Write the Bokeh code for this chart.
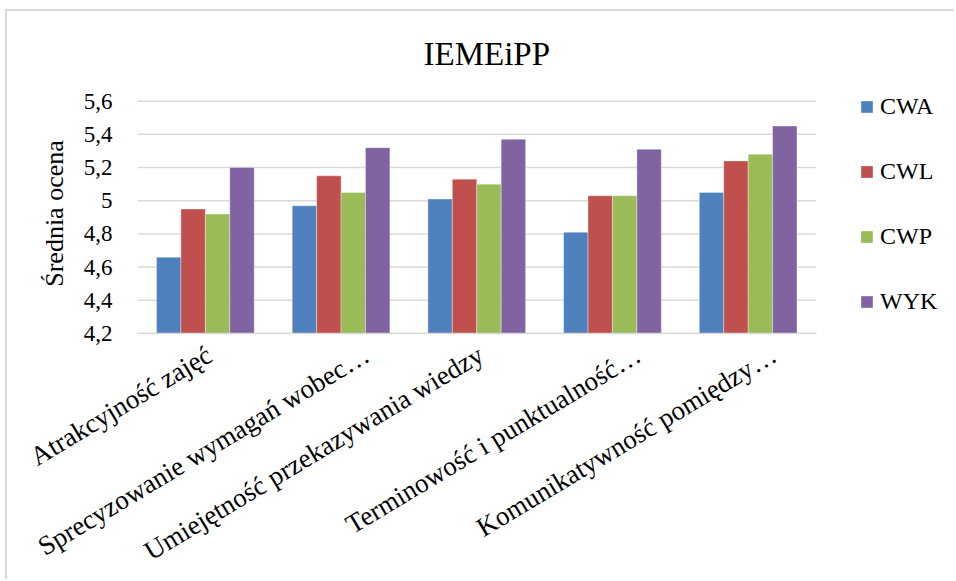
from bokeh.plotting import figure
from bokeh.models import (ColumnDataSource, Range1d, FixedTicker,
                          CustomJSTickFormatter, Legend, LegendItem, Title)
from bokeh.transform import dodge
from bokeh.embed import file_html
from bokeh.resources import INLINE
import math

# Average ratings per evaluation criterion and class type
categories = [
    "Atrakcyjność zajęć",
    "Sprecyzowanie wymagań wobec…",
    "Umiejętność przekazywania wiedzy",
    "Terminowość i punktualność…",
    "Komunikatywność pomiędzy…",
]
cwa = [4.66, 4.97, 5.01, 4.81, 5.05]
cwl = [4.95, 5.15, 5.13, 5.03, 5.24]
cwp = [4.92, 5.05, 5.10, 5.03, 5.28]
wyk = [5.20, 5.32, 5.37, 5.31, 5.45]
series_names = ["CWA", "CWL", "CWP", "WYK"]
y_ticks = [4.2, 4.4, 4.6, 4.8, 5.0, 5.2, 5.4, 5.6]

colors = ["#4F81BD", "#C0504D", "#9BBB59", "#8064A2"]
FONT = "Liberation Serif"

# Layout: the frame extends right of the bars so the legend can sit inside it;
# bars occupy the first n category slots.
W, H = 949, 570
LEFT, TOP, BOTTOM = 130, 82, 247
PX_PER_CAT = 135.7           # horizontal pixels per category slot
PX_PER_UNIT = 33.33 / 0.2    # vertical pixels per rating unit
frame_w = W - LEFT
frame_h = H - TOP - BOTTOM

n = len(categories)
centers = [i + 0.5 for i in range(n)]
source = ColumnDataSource(dict(x=centers, cat=categories,
                               CWA=cwa, CWL=cwl, CWP=cwp, WYK=wyk))

p = figure(
    width=W, height=H,
    x_range=Range1d(0, frame_w / PX_PER_CAT),
    y_range=Range1d(y_ticks[0], y_ticks[0] + frame_h / PX_PER_UNIT),
    output_backend="svg", toolbar_location=None,
    min_border_left=LEFT, min_border_right=0,
    min_border_top=TOP, min_border_bottom=BOTTOM,
    margin=(9, 0, 0, 5),
    styles={"border-top": "2px solid #d9d9d9", "border-left": "2px solid #d9d9d9"},
)
p.outline_line_color = None
p.background_fill_color = "white"
p.border_fill_color = "white"
p.xgrid.visible = False
p.ygrid.visible = False

# Horizontal grid lines over the category area only
p.segment(x0=0, x1=n, y0=y_ticks, y1=y_ticks, line_color="#d9d9d9",
          line_width=1.5, level="underlay")

offsets = [-0.27, -0.09, 0.09, 0.27]
renderers = []
for name, off, col in zip(series_names, offsets, colors):
    r = p.vbar(x=dodge("x", off), top=name, bottom=y_ticks[0],
               width=0.18, source=source, fill_color=col,
               line_color="white", line_alpha=0.35, line_width=1)
    renderers.append((name, r))

# Y axis
p.yaxis.ticker = FixedTicker(ticks=y_ticks)
p.yaxis.bounds = (y_ticks[0], y_ticks[-1])
p.yaxis.formatter = CustomJSTickFormatter(
    code="const s = (Math.round(tick*10)/10).toString(); return s.replace('.', ',');")
p.yaxis.axis_line_color = None
p.yaxis.major_tick_line_color = None
p.yaxis.minor_tick_line_color = None
p.yaxis.major_tick_out = 0
p.yaxis.major_tick_in = 0
p.yaxis.major_label_text_font = FONT
p.yaxis.major_label_text_font_size = "23px"
p.yaxis.major_label_text_color = "#000000"
p.yaxis.major_label_standoff = 25
p.yaxis.axis_label = "Średnia ocena"
p.yaxis.axis_label_text_font = FONT
p.yaxis.axis_label_text_font_size = "26px"
p.yaxis.axis_label_text_font_style = "normal"
p.yaxis.axis_label_text_color = "#000000"
p.yaxis.axis_label_standoff = 12

# Category axis: truncated names (ending in an ellipsis) sit slightly further right
label_pos = [c + (0.19 if name.endswith("…") else 0.03) for c, name in zip(centers, categories)]
xax = p.xaxis[0]
xax.bounds = (0, n)
xax.ticker = FixedTicker(ticks=label_pos)
xax.formatter = CustomJSTickFormatter(args=dict(labs=categories), code="return labs[index];")
xax.axis_line_color = "#d9d9d9"
xax.axis_line_width = 1.5
xax.major_tick_line_color = None
xax.minor_tick_line_color = None
xax.major_tick_out = 0
xax.major_tick_in = 0
xax.major_label_orientation = math.radians(31)
xax.major_label_text_font = FONT
xax.major_label_text_font_size = "27px"
xax.major_label_text_color = "#000000"
xax.major_label_standoff = 19

# Title
p.add_layout(Title(text="IEMEiPP", text_font=FONT, text_font_size="33px",
                   text_font_style="normal", text_color="#000000",
                   align="left", offset=286, standoff=44), "above")

# Legend
legend = Legend(
    items=[LegendItem(label=nm, renderers=[r]) for nm, r in renderers],
    location=(722, 18),
    orientation="vertical",
    glyph_width=15, glyph_height=15,
    label_height=20, spacing=38, label_standoff=6,
    padding=0, margin=0,
    border_line_color=None, background_fill_alpha=0,
    label_text_font=FONT, label_text_font_size="24px",
    label_text_color="#000000", label_text_baseline="middle",
)
p.add_layout(legend, "center")

open("out.html", "w").write(file_html(p, INLINE))
